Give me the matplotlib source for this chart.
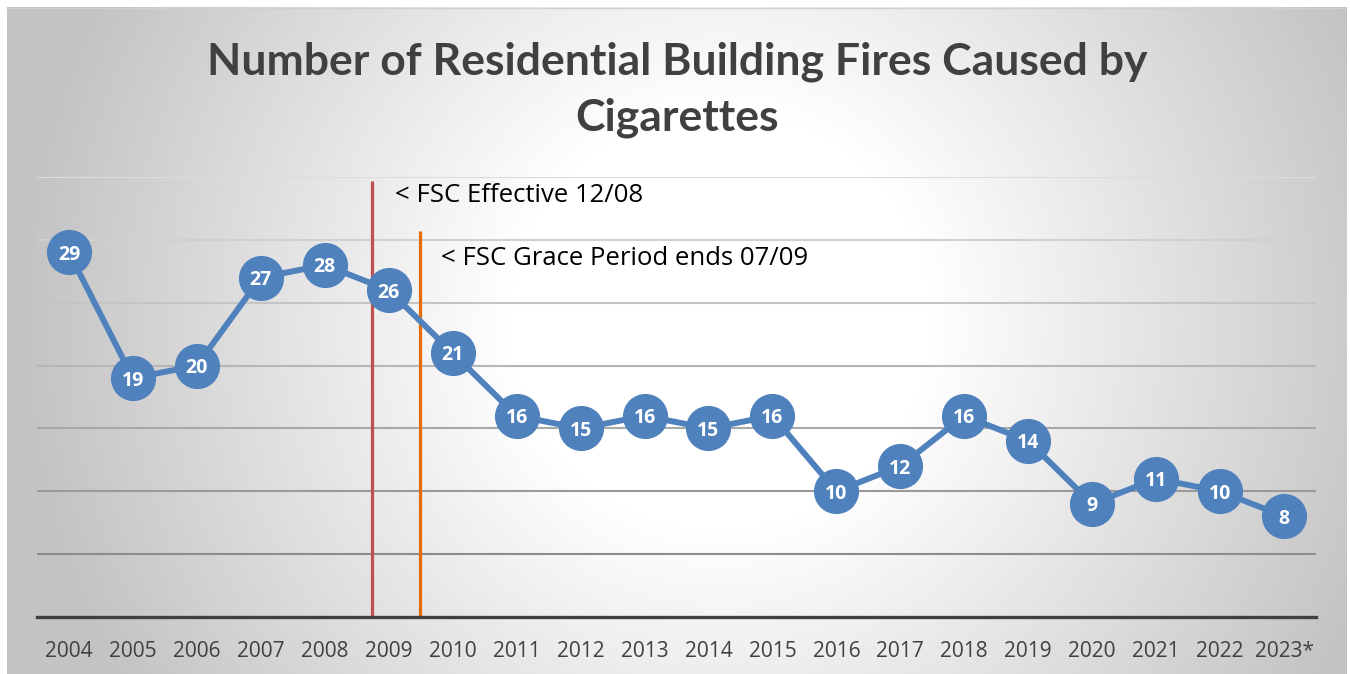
import numpy as np
import matplotlib
matplotlib.use("Agg")
import matplotlib.pyplot as plt

years = ["2004", "2005", "2006", "2007", "2008", "2009", "2010", "2011", "2012", "2013",
         "2014", "2015", "2016", "2017", "2018", "2019", "2020", "2021", "2022", "2023*"]
fires = [29, 19, 20, 27, 28, 26, 21, 16, 15, 16, 15, 16, 10, 12, 16, 14, 9, 11, 10, 8]

title_lines = ["Number of Residential Building Fires Caused by", "Cigarettes"]
events = ["< FSC Effective 12/08", "< FSC Grace Period ends 07/09"]
event_pos = [4.74, 5.49]
event_top = [34.7, 30.7]
event_colors = ["#C0504D", "#E46C0A"]
event_text_pos = [(5.10, 33.5), (5.82, 28.55)]

grid_levels = [5, 10, 15, 20, 25, 30, 35]
grid_colors = ["#8c8c8c", "#9a9a9a", "#a8a8a8", "#b6b6b6", "#c4c4c4", "#d0d0d0", "#dcdcdc"]

W, H = 1350, 674
fig = plt.figure(figsize=(W / 100, H / 100), dpi=100)
fig.patch.set_facecolor("white")

# background gradient
bg = fig.add_axes([0, 0, 1, 1])
yy, xx = np.mgrid[0:H, 0:W]
r = np.sqrt(((xx - 720) / 700.0) ** 2 + ((yy - 320) / 700.0) ** 2)
t = np.clip((r - 0.3) / 0.7, 0, 1)
lvl = (255 - (255 - 195) * t) / 255.0
img = np.dstack([lvl, lvl, lvl])
mask = (xx < 7) | (xx > 1346) | (yy < 7)
img[mask] = 1.0
bg.imshow(img, extent=[0, W, H, 0], interpolation="bilinear")
bg.plot([7, 1346], [7.5, 7.5], color="#d0d0d0", lw=1)
bg.set_xlim(0, W)
bg.set_ylim(H, 0)
bg.axis("off")

# plot axes
left, right = 37 / W, 1316 / W
bottom, top = 1 - 617 / H, 1 - 177 / H
ax = fig.add_axes([left, bottom, right - left, top - bottom])
ax.patch.set_alpha(0)
ax.set_xlim(-0.5, len(years) - 0.5)
ax.set_ylim(0, 35)

for lv, c in zip(grid_levels, grid_colors):
    ax.axhline(lv, color=c, lw=1.5, zorder=1)

for s in ["top", "right", "left"]:
    ax.spines[s].set_visible(False)
ax.spines["bottom"].set_color("#404040")
ax.spines["bottom"].set_linewidth(2.4)
ax.spines["bottom"].set_zorder(5)

ax.set_yticks([])
ax.set_xticks(range(len(years)))
ax.set_xticklabels(years, fontsize=15, color="#404040", family="Open Sans")
ax.tick_params(axis="x", length=0, pad=17)

for xp, tp, c in zip(event_pos, event_top, event_colors):
    ax.plot([xp, xp], [0, tp], color=c, lw=2.3, zorder=3, solid_capstyle="butt")

x = np.arange(len(years))
ax.plot(x, fires, color="#4F81BD", lw=4.3, zorder=4, marker="o", markersize=31.5,
        markerfacecolor="#4F81BD", markeredgecolor="#4F81BD")
for xi, v in zip(x, fires):
    ax.text(xi, v, str(v), ha="center", va="center_baseline", color="white",
            fontsize=14, fontweight="bold", family="Open Sans", zorder=6)

for txt, (tx, ty) in zip(events, event_text_pos):
    ax.text(tx, ty, txt, ha="left", va="center", fontsize=18.5, color="black",
            family="Open Sans", zorder=6)

fig.text(677 / W, 1 - 75 / H, title_lines[0], ha="center", va="baseline",
         fontsize=32, fontweight="bold", color="#404040", family="Lato")
fig.text(677 / W, 1 - 131 / H, title_lines[1], ha="center", va="baseline",
         fontsize=32, fontweight="bold", color="#404040", family="Lato")

fig.savefig("out.png", dpi=100)
